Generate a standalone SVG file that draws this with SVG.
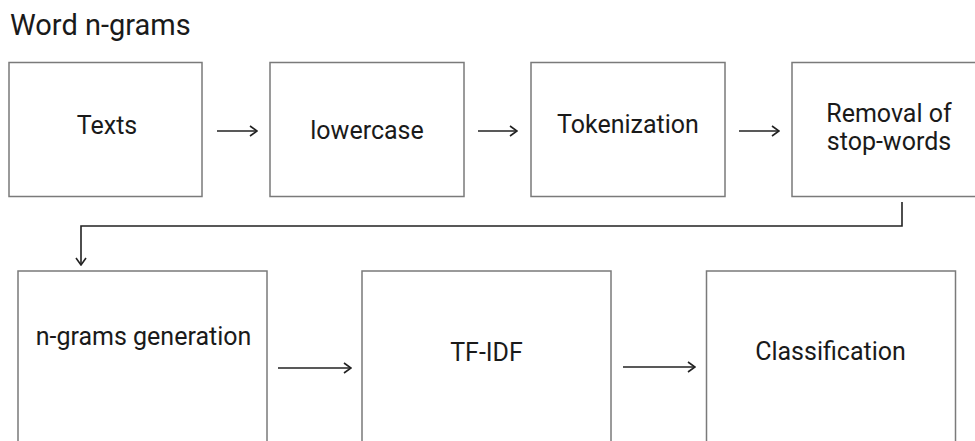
<svg xmlns="http://www.w3.org/2000/svg" width="975" height="441" viewBox="0 0 975 441">
<defs>
<style>
.box{fill:#fff;stroke:#7a7a7a;stroke-width:1.5}
.lbl{font-family:Roboto,"Liberation Sans",sans-serif;font-size:25px;fill:#1a1a1a;text-anchor:middle}
.title{font-family:Roboto,"Liberation Sans",sans-serif;font-size:29px;fill:#1a1a1a}
.conn{fill:none;stroke:#222;stroke-width:1.6}
</style>
<marker id="arr" viewBox="0 0 10 12" refX="9" refY="6" markerWidth="10" markerHeight="12" markerUnits="userSpaceOnUse" orient="auto">
<path d="M2,1 L9,6 L2,11" fill="none" stroke="#222" stroke-width="1.6"/>
</marker>
</defs>
<rect width="975" height="441" fill="#fff"/>
<text class="title" x="10" y="35">Word n-grams</text>
<g id="n1"><rect class="box" x="9" y="62.5" width="193" height="134"/><text class="lbl" x="107" y="134">Texts</text></g>
<g id="n2"><rect class="box" x="270" y="62.5" width="194" height="134"/><text class="lbl" x="367" y="139">lowercase</text></g>
<g id="n3"><rect class="box" x="531" y="62.5" width="194" height="134"/><text class="lbl" x="628" y="133">Tokenization</text></g>
<g id="n4"><rect class="box" x="792" y="62.5" width="194" height="134"/><text class="lbl" x="889" y="122">Removal of</text><text class="lbl" x="889" y="150">stop-words</text></g>
<g id="n5"><rect class="box" x="18" y="271" width="249" height="200"/><text class="lbl" x="143.5" y="345">n-grams generation</text></g>
<g id="n6"><rect class="box" x="362" y="271" width="249" height="200"/><text class="lbl" x="486.5" y="361">TF-IDF</text></g>
<g id="n7"><rect class="box" x="706.5" y="271" width="249" height="200"/><text class="lbl" x="830.5" y="360">Classification</text></g>
<g id="connectors">
<path class="conn" d="M217,131 H257" marker-end="url(#arr)"/>
<path class="conn" d="M478,131 H517" marker-end="url(#arr)"/>
<path class="conn" d="M739,131 H779" marker-end="url(#arr)"/>
<path class="conn" d="M902,202 V226 H81 V265" marker-end="url(#arr)"/>
<path class="conn" d="M278,368 H351" marker-end="url(#arr)"/>
<path class="conn" d="M623,367 H695" marker-end="url(#arr)"/>
</g>
</svg>
